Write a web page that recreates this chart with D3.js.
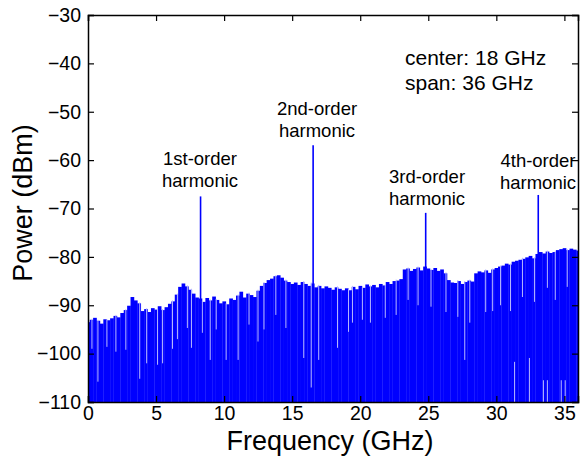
<!DOCTYPE html>
<html>
<head>
<meta charset="utf-8">
<script src="https://cdn.jsdelivr.net/npm/d3@7"></script>
<style>
  body { margin: 0; background: #fff; }
  text { font-family: Arial, "Liberation Sans", sans-serif; fill: #000; }
</style>
</head>
<body>
<div id="vis"></div>
<script>
// noise envelope (dBm), one value every 0.25 GHz from 0 to 36 GHz
var envStep = 0.25;
var envelope = [
  -93.5, -93.0, -92.6, -93.2,  -93.8, -92.9, -93.1, -92.7,
  -92.2, -92.5, -91.6, -91.0,  -90.1, -88.3, -89.0, -89.6,
  -91.2, -90.8, -91.4, -90.6,  -90.9, -90.2, -91.0, -90.4,
  -89.7, -89.2, -87.8, -86.2,  -85.5, -86.1, -86.8, -87.6,
  -88.4, -88.6, -89.3, -88.5,  -89.0, -88.2, -88.9, -89.6,
  -89.2, -89.8, -88.6, -88.9,  -88.0, -87.2, -88.4, -87.6,
  -87.9, -88.3, -87.0, -86.0,  -85.4, -84.8, -84.5, -84.0,
  -83.8, -84.3, -84.9, -85.2,  -85.6, -85.3, -85.8, -85.2,
  -85.6, -86.0, -85.5, -86.3,  -86.0, -86.5, -86.1, -86.4,
  -86.8, -86.3, -86.6, -86.9,  -86.5, -86.9, -86.2, -86.7,
  -86.0, -86.4, -85.7, -86.1,  -85.8, -86.3, -85.6, -85.9,
  -85.2, -85.6, -85.0, -84.9,  -84.6, -82.6, -82.4, -82.9,
  -82.5, -82.2, -82.8, -82.0,  -82.4, -82.7, -82.3, -82.9,
  -82.6, -83.4, -84.8, -85.3,  -85.4, -85.0, -85.6, -85.2,
  -84.9, -85.1, -83.4, -83.0,  -83.2, -82.8, -83.3, -82.6,
  -82.3, -82.0, -81.8, -81.4,  -81.6, -81.0, -80.8, -80.6,
  -80.4, -80.1, -79.8, -80.3,  -79.4, -79.0, -79.3, -78.9,
  -79.2, -79.0, -78.6, -78.4,  -78.2, -78.6, -78.3, -78.5,
  -78.7
];

// harmonic lines
var harmFreq = [8.27, 16.54, 24.81, 33.08];
var harmPower = [-67.5, -56.9, -70.9, -67.2];
var harmLabels = [["1st-order", "harmonic"], ["2nd-order", "harmonic"],
                  ["3rd-order", "harmonic"], ["4th-order", "harmonic"]];

// lighter dips cutting down from the envelope
var dipFreq = [0.29, 0.73, 1.39, 2.05, 2.78, 3.80, 4.31, 5.11, 5.48, 6.21,
               6.57, 7.30, 7.60, 8.40, 8.98, 9.42, 10.15, 11.03, 11.83, 12.49,
               12.93, 13.80, 14.54, 15.85, 16.40, 16.95, 18.33, 19.14, 19.43, 20.16,
               20.75, 21.84, 22.64, 23.52, 24.25, 25.20, 26.30, 27.17, 27.68, 28.05,
               29.22, 29.73, 30.31, 31.04, 31.92, 32.80, 33.75, 34.33, 35.21];
var dipPower = [-99.0, -105.8, -98.6, -99.6, -99.2, -105.2, -102.0, -102.3, -102.0, -99.0,
                -97.0, -94.7, -98.8, -95.7, -101.3, -95.0, -101.3, -101.3, -94.0, -97.5,
                -95.0, -92.0, -94.7, -100.9, -107.0, -101.3, -98.8, -95.5, -93.6, -93.0,
                -93.6, -92.6, -92.0, -88.9, -90.0, -90.3, -91.4, -92.4, -101.3, -93.6,
                -91.4, -91.2, -90.0, -91.2, -88.3, -89.3, -86.4, -88.9, -86.2];

// gaps rising from the bottom of the screen
var gapFreq = [31.34, 32.43, 33.46, 33.75, 34.77, 35.06];
var gapPower = [-101.7, -100.9, -105.5, -105.5, -105.5, -105.5];

var xTicks = [0, 5, 10, 15, 20, 25, 30, 35];
var yTicks = [-110, -100, -90, -80, -70, -60, -50, -40, -30];

var W = 581, H = 466;
var L = 88, R = 578, T = 15, B = 402;

var x = d3.scaleLinear().domain([0, 36]).range([L, R]);
var y = d3.scaleLinear().domain([-110, -30]).range([B, T]);

var svg = d3.select("#vis").append("svg")
    .attr("width", W)
    .attr("height", H);

svg.append("clipPath").attr("id", "plotclip")
  .append("rect")
    .attr("x", L).attr("y", T)
    .attr("width", R - L).attr("height", B - T);

var plot = svg.append("g").attr("clip-path", "url(#plotclip)");

var blue = "#0000ff";

// noise floor teeth
plot.selectAll("rect.tooth")
    .data(envelope)
  .enter().append("rect")
    .attr("class", "tooth")
    .attr("x", function(d, i) { return x(i * envStep - envStep / 2); })
    .attr("width", function(d, i) { return x(envStep) - x(0) + 0.3; })
    .attr("y", function(d) { return y(d); })
    .attr("height", function(d) { return B - y(d) + 2; })
    .attr("fill", blue);

function envAt(f) {
    return envelope[Math.min(envelope.length - 1, Math.round(f / envStep))];
}

var light = "#b8b8ff";

plot.selectAll("line.dip")
    .data(dipFreq)
  .enter().append("line")
    .attr("class", "dip")
    .attr("x1", function(d) { return x(d); })
    .attr("x2", function(d) { return x(d); })
    .attr("y1", function(d) { return y(envAt(d)) - 1; })
    .attr("y2", function(d, i) { return y(dipPower[i]); })
    .attr("stroke", light)
    .attr("stroke-width", 1);

plot.selectAll("line.gap")
    .data(gapFreq)
  .enter().append("line")
    .attr("class", "gap")
    .attr("x1", function(d) { return x(d); })
    .attr("x2", function(d) { return x(d); })
    .attr("y1", B)
    .attr("y2", function(d, i) { return y(gapPower[i]); })
    .attr("stroke", light)
    .attr("stroke-width", 1);

plot.selectAll("line.harm")
    .data(harmFreq)
  .enter().append("line")
    .attr("class", "harm")
    .attr("x1", function(d) { return x(d); })
    .attr("x2", function(d) { return x(d); })
    .attr("y1", B)
    .attr("y2", function(d, i) { return y(harmPower[i]); })
    .attr("stroke", blue)
    .attr("stroke-width", 1.6);

// axes, ticks pointing in, mirrored on top and right
var tickLen = 6;
svg.append("g")
    .attr("transform", "translate(0," + B + ")")
    .call(d3.axisBottom(x).tickValues(xTicks).tickSize(-tickLen).tickPadding(4))
    .call(styleAxis);
svg.append("g")
    .attr("transform", "translate(0," + T + ")")
    .call(d3.axisTop(x).tickValues(xTicks).tickSize(-tickLen).tickFormat(""))
    .call(styleAxis);
svg.append("g")
    .attr("transform", "translate(" + L + ",0)")
    .call(d3.axisLeft(y).tickValues(yTicks).tickSize(-tickLen).tickPadding(7))
    .call(styleAxis);
svg.append("g")
    .attr("transform", "translate(" + R + ",0)")
    .call(d3.axisRight(y).tickValues(yTicks).tickSize(-tickLen).tickFormat(""))
    .call(styleAxis);

function styleAxis(g) {
    g.select(".domain").attr("stroke", "#000").attr("stroke-width", 1.5);
    g.selectAll(".tick line").attr("stroke", "#000").attr("stroke-width", 1.2);
    g.selectAll(".tick text")
        .style("font-family", "Arial, 'Liberation Sans', sans-serif")
        .style("font-size", "19.5px")
        .attr("fill", "#000");
}

// axis titles
svg.append("text")
    .attr("x", 330)
    .attr("y", 450)
    .attr("text-anchor", "middle")
    .style("font-size", "27px")
    .text("Frequency (GHz)");

svg.append("text")
    .attr("transform", "translate(32,203) rotate(-90)")
    .attr("text-anchor", "middle")
    .style("font-size", "27px")
    .text("Power (dBm)");

// annotations
var labelX = [200, 317, 427, 538];
var labelY = [165, 115, 183, 167];
harmLabels.forEach(function(lines, i) {
    var t = svg.append("text")
        .attr("text-anchor", "middle")
        .style("font-size", "18.5px");
    lines.forEach(function(s, j) {
        t.append("tspan")
            .attr("x", labelX[i])
            .attr("y", labelY[i] + j * 22)
            .text(s);
    });
});

svg.append("text")
    .attr("x", 405).attr("y", 65)
    .style("font-size", "21px")
    .text("center: 18 GHz");
svg.append("text")
    .attr("x", 405).attr("y", 90)
    .style("font-size", "21px")
    .text("span: 36 GHz");
</script>
</body>
</html>
